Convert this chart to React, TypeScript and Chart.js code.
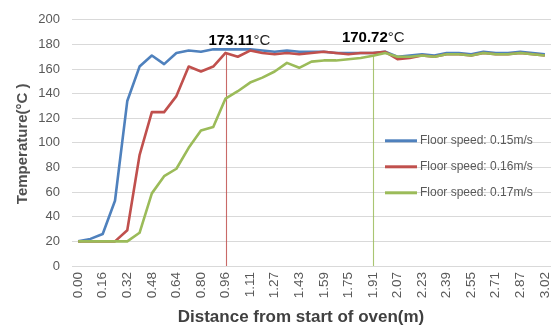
import { useEffect, useRef } from "react";
import { Chart, registerables } from "chart.js";

Chart.register(...registerables);

// Distance from start of oven (m) - categories
const distances = [
  "0.00", "0.08", "0.16", "0.24", "0.32", "0.40", "0.48", "0.56", "0.64", "0.72",
  "0.80", "0.88", "0.96", "1.03", "1.11", "1.19", "1.27", "1.35", "1.43", "1.51",
  "1.59", "1.67", "1.75", "1.83", "1.91", "1.99", "2.07", "2.15", "2.23", "2.31",
  "2.39", "2.47", "2.55", "2.63", "2.71", "2.79", "2.87", "2.95", "3.02",
];

// Temperature (°C) for each floor speed
const speed015 = [
  20, 22, 26, 53, 134, 162, 171, 164, 173, 175,
  174, 176, 176, 176, 176, 175, 174, 175, 174, 174,
  174, 173, 173, 173, 173, 174, 170, 171, 172, 171,
  173, 173, 172, 174, 173, 173, 174, 173, 172,
];
const speed016 = [
  20, 20, 20, 20, 29, 90, 125, 125, 138, 162,
  158, 162, 173.11, 170, 175, 173, 172, 173, 172, 173,
  174, 173, 172, 173, 173, 174, 168, 169, 171, 170,
  172, 172, 171, 173, 172, 172, 173, 172, 171,
];
const speed017 = [
  20, 20, 20, 20, 20, 27, 59, 73, 79, 96,
  110, 113, 136, 142, 149, 153, 158, 165, 161, 166,
  167, 167, 168, 169, 170.72, 173, 170, 170, 171, 170,
  172, 172, 171, 173, 172, 172, 173, 172, 171,
];

const seriesNames = ["Floor speed: 0.15m/s", "Floor speed: 0.16m/s", "Floor speed: 0.17m/s"];
const seriesColors = ["#4f81bd", "#c0504d", "#9bbb59"];

const yMin = 0;
const yMax = 200;
const yStep = 20;

// Marked peak points: category index, series index, label
const markerIndices = [12, 24];
const markerSeries = [1, 2];
const markerLabels = ["173.11", "170.72"];

const xTitle = "Distance from start of oven(m)";
const yTitle = "Temperature(°C )";

const markerLabelOffsets = [
  { dx: -17, dy: -12 },
  { dx: -31, dy: -18 },
];

const overlayPlugin = {
  id: "overlay",
  beforeDatasetsDraw(chart: any) {
    const { ctx, scales } = chart;
    const x = scales.x;
    const y = scales.y;
    markerIndices.forEach((idx, k) => {
      const s = markerSeries[k];
      const v = chart.data.datasets[s].data[idx];
      const px = Math.round(x.getPixelForValue(idx)) + 0.5;
      ctx.save();
      ctx.strokeStyle = seriesColors[s];
      ctx.globalAlpha = 0.85;
      ctx.lineWidth = 1.1;
      ctx.beginPath();
      ctx.moveTo(px, y.getPixelForValue(v));
      ctx.lineTo(px, y.getPixelForValue(0));
      ctx.stroke();
      ctx.restore();
    });
  },
  afterDraw(chart: any) {
    const { ctx, scales, chartArea } = chart;
    const x = scales.x;
    const y = scales.y;
    ctx.save();
    // marker labels
    markerIndices.forEach((idx, k) => {
      const s = markerSeries[k];
      const v = chart.data.datasets[s].data[idx];
      const px = x.getPixelForValue(idx) + markerLabelOffsets[k].dx;
      const py = y.getPixelForValue(v) + markerLabelOffsets[k].dy;
      ctx.textBaseline = "middle";
      ctx.textAlign = "left";
      ctx.fillStyle = "#000000";
      ctx.font = "bold 15px 'Liberation Sans', Arial, sans-serif";
      ctx.fillText(markerLabels[k], px, py);
      const w = ctx.measureText(markerLabels[k]).width;
      ctx.font = "15px 'Liberation Sans', Arial, sans-serif";
      ctx.fillStyle = "#222222";
      ctx.fillText("°C", px + w, py);
    });

    // legend
    const lx = chartArea.right - 166;
    const ly0 = chartArea.top + 121;
    seriesNames.forEach((name, i) => {
      const ly = ly0 + i * 26;
      ctx.strokeStyle = seriesColors[i];
      ctx.lineWidth = 3;
      ctx.beginPath();
      ctx.moveTo(lx, ly);
      ctx.lineTo(lx + 32, ly);
      ctx.stroke();
      ctx.fillStyle = "#595959";
      ctx.font = "12px 'Liberation Sans', Arial, sans-serif";
      ctx.textAlign = "left";
      ctx.textBaseline = "middle";
      ctx.fillText(name, lx + 35, ly);
    });

    // axis titles
    ctx.fillStyle = "#404040";
    ctx.font = "bold 17px 'Liberation Sans', Arial, sans-serif";
    ctx.textAlign = "center";
    ctx.textBaseline = "middle";
    ctx.fillText(xTitle, chartArea.left + 229, chartArea.bottom + 51);

    ctx.save();
    ctx.translate(23, chartArea.top + 124);
    ctx.rotate(-Math.PI / 2);
    ctx.fillStyle = "#505050";
    ctx.font = "bold 15px 'Liberation Sans', Arial, sans-serif";
    ctx.fillText(yTitle, 0, 0);
    ctx.restore();

    ctx.restore();
  },
};

export default function App() {
  const canvasRef = useRef<HTMLCanvasElement | null>(null);

  useEffect(() => {
    document.body.style.margin = "0";
    const canvas = canvasRef.current;
    if (!canvas) return;
    const series = [speed015, speed016, speed017];
    const chart = new Chart(canvas, {
      type: "line",
      data: {
        labels: distances,
        datasets: series.map((data, i) => ({
          label: seriesNames[i],
          data,
          borderColor: seriesColors[i],
          backgroundColor: seriesColors[i],
          borderWidth: 2.6,
          pointRadius: 0,
          tension: 0,
          fill: false,
          borderJoinStyle: "round" as const,
          order: 3 - i,
        })),
      },
      options: {
        responsive: false,
        animation: false,
        events: [],
        layout: { padding: { top: 14, left: 0, right: 2, bottom: 0 } },
        plugins: {
          legend: { display: false },
          tooltip: { enabled: false },
          title: { display: false },
        },
        scales: {
          x: {
            type: "category",
            offset: true,
            grid: { display: false, drawTicks: false },
            border: { display: false },
            ticks: {
              autoSkip: false,
              minRotation: 90,
              maxRotation: 90,
              padding: 6,
              color: "#595959",
              font: { family: "'Liberation Sans', Arial, sans-serif", size: 13.5 },
              callback: (_v: any, i: number) => (i % 2 === 0 ? distances[i] : ""),
            },
            afterFit: (scale: any) => {
              scale.height = 63;
              scale.paddingLeft = 0;
              scale.paddingRight = 0;
            },
          },
          y: {
            min: yMin,
            max: yMax,
            grid: { color: "#d9d9d9", lineWidth: 1, drawTicks: false },
            border: { display: false },
            ticks: {
              stepSize: yStep,
              padding: 12,
              color: "#595959",
              font: { family: "'Liberation Sans', Arial, sans-serif", size: 13 },
            },
            afterFit: (scale: any) => {
              scale.width = 72;
            },
          },
        },
      },
      plugins: [overlayPlugin],
    });
    return () => chart.destroy();
  }, []);

  return (
    <div style={{ position: "absolute", left: 0, top: 0, width: 553, height: 329, background: "#ffffff" }}>
      <canvas ref={canvasRef} width={553} height={329} style={{ width: 553, height: 329 }} />
    </div>
  );
}
